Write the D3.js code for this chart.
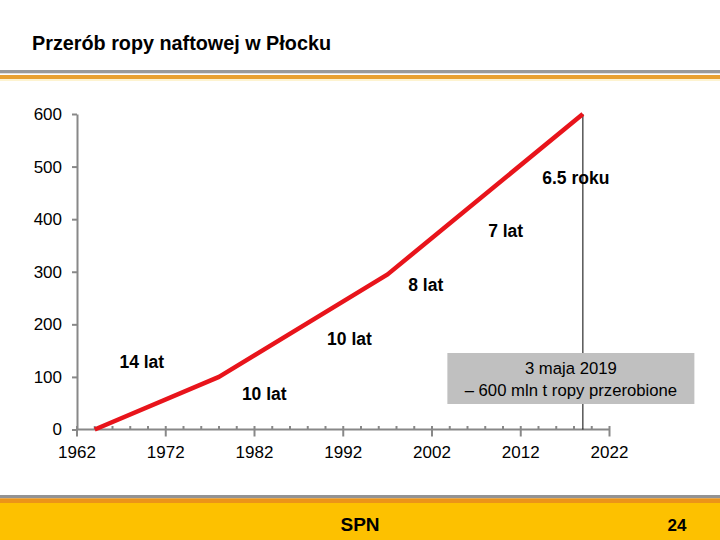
<!DOCTYPE html>
<html><head><meta charset="utf-8">
<script src="https://cdn.jsdelivr.net/npm/d3@7/dist/d3.min.js"></script>
<style>body{margin:0;background:#fff}svg{display:block;font-family:"Liberation Sans",Arial,sans-serif}</style>
</head><body>
<svg id="c" width="720" height="540"></svg>
<script>
const title = "Przerób ropy naftowej w Płocku";
const years = [1964, 1978, 1997, 2019];
const values = [0, 100, 295, 600];
const yTicks = [0, 100, 200, 300, 400, 500, 600];
const xTicks = [1962, 1972, 1982, 1992, 2002, 2012, 2022];
const minorTicks = d3.range(1962, 2023, 2);
const periodText = ["14 lat", "10 lat", "10 lat", "8 lat", "7 lat", "6.5 roku"];
const periodYear = [1969.3, 1983.1, 1992.7, 2001.3, 2010.3, 2018.2];
const periodValue = [128, 67, 172, 274, 377, 478];
const noteLines = ["3 maja 2019", "– 600 mln t ropy przerobione"];
const noteYear = 2019, noteValue = 600;
const footerText = "SPN", pageNum = "24";

const svg = d3.select("#c");
const x = d3.scaleLinear().domain([1962, 2022]).range([77, 609.5]);
const y = d3.scaleLinear().domain([0, 600]).range([429.5, 114]);

// header
svg.append("text").attr("x", 32).attr("y", 50).attr("font-size", 19.8).attr("font-weight", "bold").attr("fill", "#000").text(title);
svg.append("rect").attr("x", 0).attr("y", 70).attr("width", 720).attr("height", 3.3).attr("fill", "#999");
svg.append("rect").attr("x", 0).attr("y", 75).attr("width", 720).attr("height", 4).attr("fill", "#e8a030");
svg.append("rect").attr("x", 0).attr("y", 79).attr("width", 720).attr("height", 2).attr("fill", "#fdf3d0");

// footer
svg.append("rect").attr("x", 0).attr("y", 495).attr("width", 720).attr("height", 3.3).attr("fill", "#939393");
svg.append("rect").attr("x", 0).attr("y", 498.3).attr("width", 720).attr("height", 5).attr("fill", "#ec9418");
svg.append("rect").attr("x", 0).attr("y", 503).attr("width", 720).attr("height", 37).attr("fill", "#fdc100");
svg.append("text").attr("x", 360).attr("y", 531).attr("text-anchor", "middle").attr("font-size", 19).attr("font-weight", "bold").text(footerText);
svg.append("text").attr("x", 677).attr("y", 531).attr("text-anchor", "middle").attr("font-size", 17).attr("font-weight", "bold").text(pageNum);

// y axis
const ya = svg.append("g").attr("transform", `translate(${x(1962)},0)`)
  .call(d3.axisLeft(y).tickValues(yTicks).tickSize(5).tickSizeOuter(0).tickPadding(10));
ya.select(".domain").attr("stroke", "#888").attr("stroke-width", 2);
ya.selectAll(".tick line").attr("stroke", "#888").attr("stroke-width", 2);
ya.selectAll(".tick text").attr("font-size", 17).attr("fill", "#000").attr("font-family", "Liberation Sans, Arial, sans-serif");

// x axis
const xg = svg.append("g");
xg.append("line").attr("x1", x(1962)).attr("x2", x(2022)).attr("y1", y(0)).attr("y2", y(0)).attr("stroke", "#888").attr("stroke-width", 2);
xg.selectAll(".mn").data(minorTicks).join("line")
  .attr("x1", d => x(d)).attr("x2", d => x(d)).attr("y1", y(0) - 3.5).attr("y2", d => xTicks.includes(d) ? y(0) + 7 : y(0))
  .attr("stroke", "#888").attr("stroke-width", 2);
xg.selectAll(".xl").data(xTicks).join("text")
  .attr("x", d => x(d)).attr("y", 458).attr("text-anchor", "middle").attr("font-size", 17).text(d => d);

// vertical marker line
svg.append("line").attr("x1", x(noteYear)).attr("x2", x(noteYear)).attr("y1", y(noteValue)).attr("y2", y(0)).attr("stroke", "#000").attr("stroke-width", 1);

// data line
const pts = years.map((d, i) => [d, values[i]]);
svg.append("path").datum(pts)
  .attr("d", d3.line().x(d => x(d[0])).y(d => y(d[1])))
  .attr("fill", "none").attr("stroke", "#e8141b").attr("stroke-width", 4.5).attr("stroke-linejoin", "round");

// period labels
svg.selectAll(".pl").data(periodText).join("text")
  .attr("x", (d, i) => x(periodYear[i])).attr("y", (d, i) => y(periodValue[i]) + 6)
  .attr("text-anchor", "middle").attr("font-size", 17.5).attr("font-weight", "bold").text(d => d);

// note box
const bx = x(noteYear) - 12;
svg.append("rect").attr("x", bx - 123.5).attr("y", 353).attr("width", 247).attr("height", 51).attr("fill", "#c0c0c0");
svg.selectAll(".nt").data(noteLines).join("text")
  .attr("x", bx).attr("y", (d, i) => 374 + i * 22).attr("text-anchor", "middle").attr("font-size", 16.7).text(d => d);
</script>
</body></html>
